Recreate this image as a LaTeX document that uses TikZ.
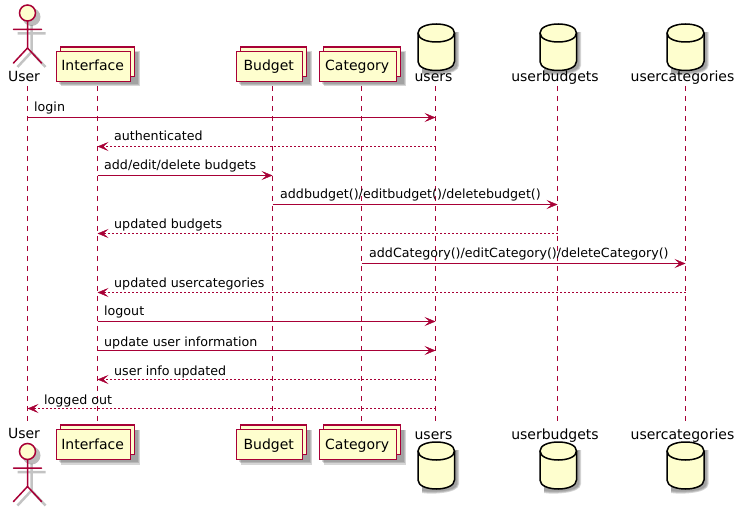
\documentclass[tikz,border=0pt]{standalone}
\usepackage{fontspec}
\setmainfont{DejaVu Sans}
\usetikzlibrary{arrows.meta}
\definecolor{puline}{HTML}{A80036}
\definecolor{pufill}{HTML}{FEFECE}
\definecolor{pushadow}{HTML}{6A6A6A}
\tikzset{
  x=1pt,y=-1pt,
  msgbase/.style={draw=puline,line width=0.9pt,-{Stealth[length=11pt,width=9pt,inset=5pt,fill=puline,line width=0.4pt]}},
  callmsg/.style={msgbase},
  retmsg/.style={msgbase,dash pattern=on 2pt off 2pt},
  lifeline/.style={draw=puline,line width=0.9pt,dash pattern=on 5pt off 5pt},
  msglabel/.style={font=\fontsize{12.65}{13}\selectfont,anchor=base west,inner sep=0pt,text=black},
  partname/.style={font=\fontsize{14}{14}\selectfont,anchor=base,inner sep=0pt,text=black},
  boxpart/.style={draw=puline,fill=pufill,line width=1.5pt},
  actorline/.style={draw=puline,line width=1.5pt,line cap=round},
  cylline/.style={draw=black,fill=pufill,line width=1.5pt},
  softshadow/.style={fill=pushadow,draw=none,opacity=0.28},
}
% collection box: #1 name, #2 left, #3 right, #4 top of front box, #5 text
\newcommand{\collbox}[5]{%
  \foreach \d in {0,1,2}{
    \fill[softshadow] (#2+4.5-\d*0.8,#4+\d*0.2) rectangle (#3+9.5-\d*1.1,#4+35-\d*1.1);
  }
  \draw[boxpart] (#2+4,#4-4.5) rectangle (#3+4,#4+25);
  \draw[boxpart] (#2,#4) rectangle (#3,#4+30);
  \node[partname] (#1) at ({(#2+#3)/2-0.8},#4+19.5) {#5};
}
% actor: #1 x, #2 head centre y
\newcommand{\actorfig}[2]{%
  \begin{scope}[shift={(#1+4,#2+4)}]
    \draw[draw=pushadow,opacity=0.4,line width=2.5pt] (0,8) -- (0,35) (-14,16.5) -- (14,16.5) (0,35) -- (-14,50) (0,35) -- (14,50);
    \fill[pushadow,opacity=0.45] (0,0) circle (9);
  \end{scope}
  \begin{scope}[shift={(#1,#2)}]
    \draw[actorline] (0,8) -- (0,35) (-14,16.5) -- (14,16.5) (0,35) -- (-14,50) (0,35) -- (14,50);
    \draw[actorline,fill=pufill] (0,0) circle (8);
  \end{scope}
}
% cylinder: #1 left, #2 right, #3 top, #4 bottom
\newcommand{\cylfig}[4]{%
  \foreach \d in {0,1,2}{
    \fill[softshadow] (#1+4,#3+12) -- (#2+4.5-\d,#3+8) -- (#2+4.5-\d,#4-5) .. controls (#2+4.5-\d,#4+5-\d) and (#1+12,#4+5.5-\d) .. (#1+4,#4+4-\d) -- cycle;
  }
  \draw[cylline] (#1,#3+9) .. controls (#1,#3-3) and (#2,#3-3) .. (#2,#3+9) -- (#2,#4-9) .. controls (#2,#4+3) and (#1,#4+3) .. (#1,#4-9) -- cycle;
  \draw[cylline,fill=none] (#1,#3+9) .. controls (#1,#3+21) and (#2,#3+21) .. (#2,#3+9);
}
\begin{document}
\begin{tikzpicture}
\useasboundingbox (0,0) rectangle (745,513);

% lifelines
\coordinate (tUser) at (27.5,86);      \coordinate (bUser) at (27.5,425);
\coordinate (tIface) at (97.5,86);     \coordinate (bIface) at (97.5,425);
\coordinate (tBudget) at (272.5,86);   \coordinate (bBudget) at (272.5,425);
\coordinate (tCat) at (361.5,86);      \coordinate (bCat) at (361.5,425);
\coordinate (tUsers) at (435.5,86);    \coordinate (bUsers) at (435.5,425);
\coordinate (tUB) at (557.5,86);       \coordinate (bUB) at (557.5,425);
\coordinate (tUC) at (685.5,86);       \coordinate (bUC) at (685.5,425);
\foreach \a/\b in {tUser/bUser,tIface/bIface,tBudget/bBudget,tCat/bCat,tUsers/bUsers,tUB/bUB,tUC/bUC}{
  \draw[lifeline] (\a) -- (\b);
}

% top participants
\actorfig{27.5}{13}
\node[partname] (userT) at (24,82) {User};
\collbox{ifaceT}{56.5}{130.5}{51.5}{Interface}
\collbox{budgetT}{236.5}{302.5}{51.5}{Budget}
\collbox{catT}{319.5}{396.5}{51.5}{Category}
\cylfig{418}{454.5}{24}{70.5}
\node[partname] (usersT) at (433.5,82) {users};
\cylfig{540}{576.5}{24}{70.5}
\node[partname] (ubT) at (555,82) {userbudgets};
\cylfig{667}{704}{24}{70.5}
\node[partname] (ucT) at (682.5,82) {usercategories};

% bottom participants
\actorfig{27.5}{451.5}
\node[partname] (userB) at (24,438) {User};
\collbox{ifaceB}{56.5}{130.5}{429.5}{Interface}
\collbox{budgetB}{236.5}{302.5}{429.5}{Budget}
\collbox{catB}{319.5}{396.5}{429.5}{Category}
\cylfig{418}{454.5}{442}{489}
\node[partname] (usersB) at (433.5,439) {users};
\cylfig{540}{576.5}{442}{489}
\node[partname] (ubB) at (555,439) {userbudgets};
\cylfig{667}{704}{442}{489}
\node[partname] (ucB) at (682.5,439) {usercategories};

% messages
\draw[callmsg] (tUser |- 0,117.5) -- (tUsers |- 0,117.5);
\node[msglabel] (m1) at (34,112) {login};
\draw[retmsg] (tUsers |- 0,146.5) -- (tIface |- 0,146.5);
\node[msglabel] (m2) at (114,141) {authenticated};
\draw[callmsg] (tIface |- 0,175.5) -- (tBudget |- 0,175.5);
\node[msglabel] (m3) at (104,170) {add/edit/delete budgets};
\draw[callmsg] (tBudget |- 0,204.5) -- (tUB |- 0,204.5);
\node[msglabel] (m4) at (280,199) {addbudget()/editbudget()/deletebudget()};
\draw[retmsg] (tUB |- 0,233.5) -- (tIface |- 0,233.5);
\node[msglabel] (m5) at (114,229) {updated budgets};
\draw[callmsg] (tCat |- 0,263.5) -- (tUC |- 0,263.5);
\node[msglabel] (m6) at (369,258) {addCategory()/editCategory()/deleteCategory()};
\draw[retmsg] (tUC |- 0,292.5) -- (tIface |- 0,292.5);
\node[msglabel] (m7) at (114,288) {updated usercategories};
\draw[callmsg] (tIface |- 0,321.5) -- (tUsers |- 0,321.5);
\node[msglabel] (m8) at (104,316) {logout};
\draw[callmsg] (tIface |- 0,350.5) -- (tUsers |- 0,350.5);
\node[msglabel] (m9) at (104,346) {update user information};
\draw[retmsg] (tUsers |- 0,379.5) -- (tIface |- 0,379.5);
\node[msglabel] (m10) at (114,375) {user info updated};
\draw[retmsg] (tUsers |- 0,408.5) -- (tUser |- 0,408.5);
\node[msglabel] (m11) at (44,404) {logged out};
\end{tikzpicture}
\end{document}
